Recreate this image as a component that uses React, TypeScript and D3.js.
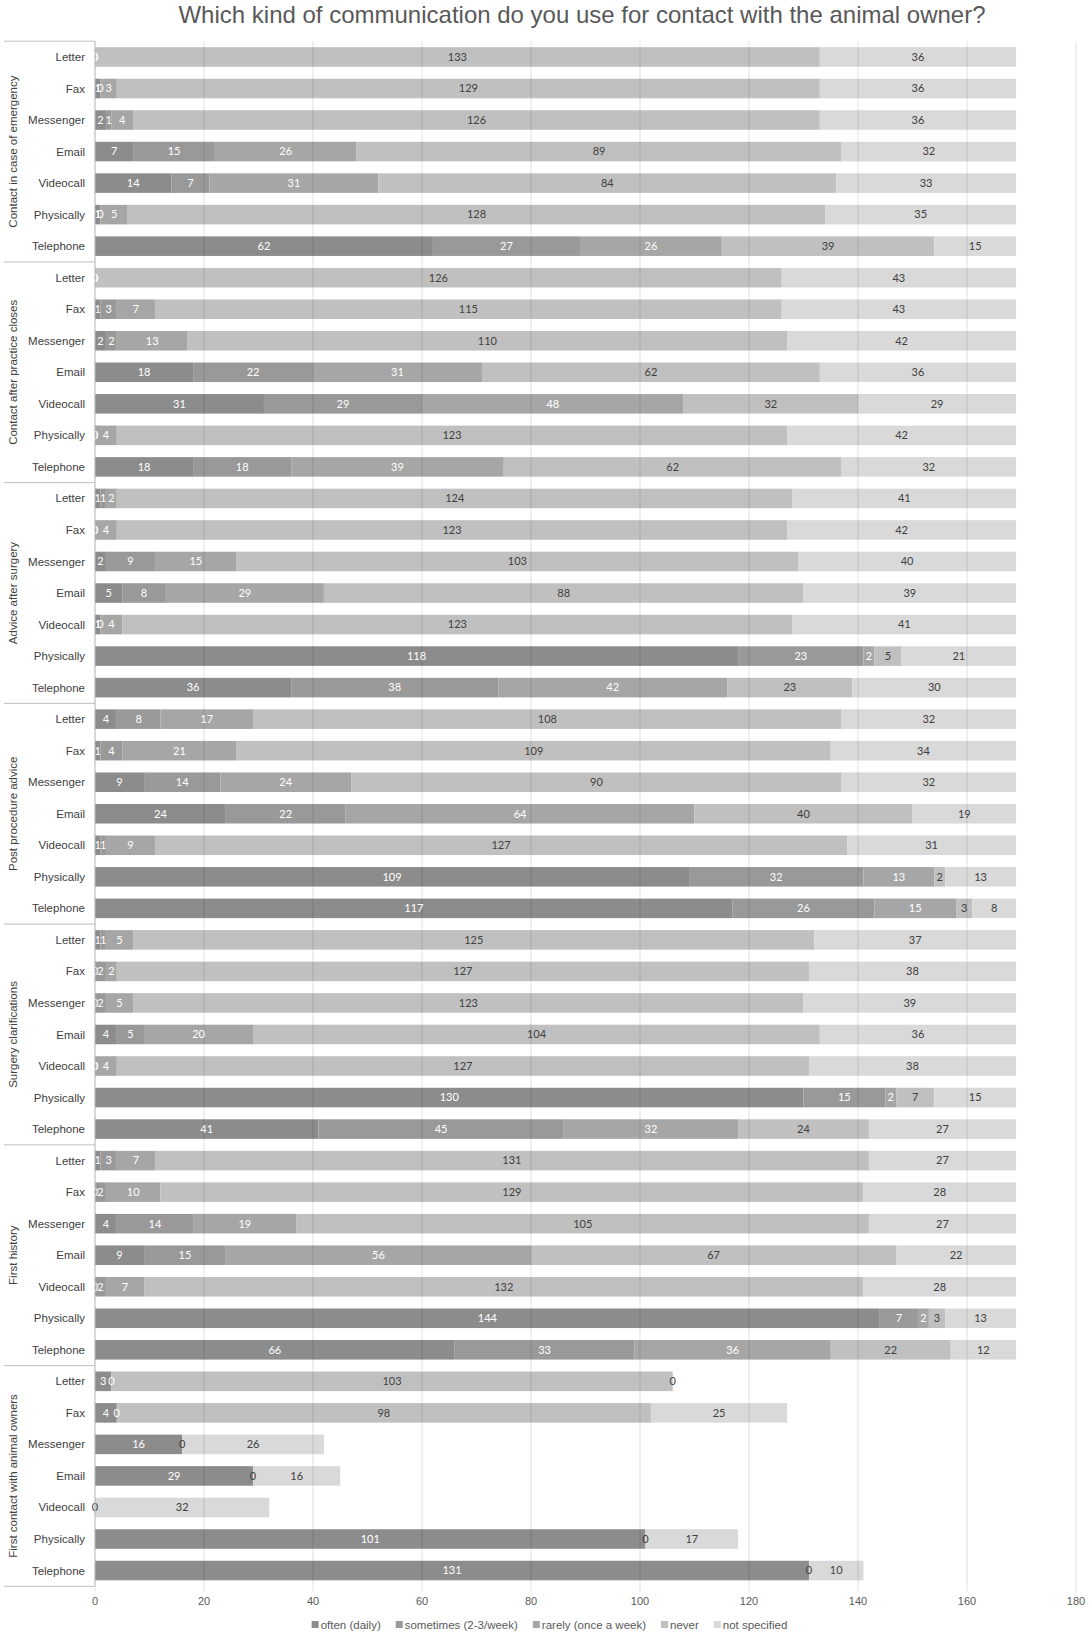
import React from "react";
import * as d3 from "d3";

const TITLE = "Which kind of communication do you use for contact with the animal owner?";
const SERIES = ["often (daily)", "sometimes (2-3/week)", "rarely (once a week)", "never", "not specified"];
const COLORS = ["#8c8c8c", "#999999", "#a6a6a6", "#c0c0c0", "#d9d9d9"];
const LABEL_COLORS = ["#ffffff", "#ffffff", "#ffffff", "#404040", "#404040"];
const CHANNELS = ["Letter", "Fax", "Messenger", "Email", "Videocall", "Physically", "Telephone"];
const GROUPS = [
  "Contact in case of emergency",
  "Contact after practice closes",
  "Advice after surgery",
  "Post procedure advice",
  "Surgery clarifications",
  "First history",
  "First contact with animal owners",
];
const TICKS = [0, 20, 40, 60, 80, 100, 120, 140, 160, 180];

type V = number | null;
// rows: Letter, Fax, Messenger, Email, Videocall, Physically, Telephone
// cols: often, sometimes, rarely, never, not specified
const emergency: V[][] = [
  [0, 0, 0, 133, 36],
  [1, 0, 3, 129, 36],
  [2, 1, 4, 126, 36],
  [7, 15, 26, 89, 32],
  [14, 7, 31, 84, 33],
  [1, 0, 5, 128, 35],
  [62, 27, 26, 39, 15],
];
const afterClose: V[][] = [
  [0, 0, 0, 126, 43],
  [1, 3, 7, 115, 43],
  [2, 2, 13, 110, 42],
  [18, 22, 31, 62, 36],
  [31, 29, 48, 32, 29],
  [0, 0, 4, 123, 42],
  [18, 18, 39, 62, 32],
];
const afterSurgery: V[][] = [
  [1, 1, 2, 124, 41],
  [0, 0, 4, 123, 42],
  [2, 9, 15, 103, 40],
  [5, 8, 29, 88, 39],
  [1, 0, 4, 123, 41],
  [118, 23, 2, 5, 21],
  [36, 38, 42, 23, 30],
];
const postProcedure: V[][] = [
  [4, 8, 17, 108, 32],
  [1, 4, 21, 109, 34],
  [9, 14, 24, 90, 32],
  [24, 22, 64, 40, 19],
  [1, 1, 9, 127, 31],
  [109, 32, 13, 2, 13],
  [117, 26, 15, 3, 8],
];
const clarifications: V[][] = [
  [1, 1, 5, 125, 37],
  [0, 2, 2, 127, 38],
  [0, 2, 5, 123, 39],
  [4, 5, 20, 104, 36],
  [0, 0, 4, 127, 38],
  [130, 15, 2, 7, 15],
  [41, 45, 32, 24, 27],
];
const firstHistory: V[][] = [
  [1, 3, 7, 131, 27],
  [0, 2, 10, 129, 28],
  [4, 14, 19, 105, 27],
  [9, 15, 56, 67, 22],
  [0, 2, 7, 132, 28],
  [144, 7, 2, 3, 13],
  [66, 33, 36, 22, 12],
];
const firstContact: V[][] = [
  [3, 0, null, 103, 0],
  [4, 0, null, 98, 25],
  [16, null, null, 0, 26],
  [29, null, null, 0, 16],
  [null, null, null, 0, 32],
  [101, null, null, 0, 17],
  [131, null, null, 0, 10],
];
const GROUP_DATA = [emergency, afterClose, afterSurgery, postProcedure, clarifications, firstHistory, firstContact];

const W = 1090;
const H = 1637;
const AX = "'Liberation Sans', Arial, sans-serif";
const LBL = "Lato, 'Open Sans', sans-serif";

function measure(text: string, font: string) {
  const c = document.createElement("canvas").getContext("2d");
  if (!c) return text.length * 6;
  c.font = font;
  return c.measureText(text).width;
}

export default function App() {
  const rows = GROUPS.flatMap((g, gi) => CHANNELS.map((c, ci) => ({ key: `${gi}|${ci}`, group: gi, channel: c, values: GROUP_DATA[gi][ci] })));
  const x = d3.scaleLinear().domain([0, 180]).range([95, 1076]);
  const y = d3.scaleBand<string>().domain(rows.map((r) => r.key)).range([41.2, 1586.3]).paddingInner(0.38).paddingOuter(0.19);
  const step = y.step();
  const top = 41.2;
  const bottom = 1586.3;

  const segs: any[] = [];
  rows.forEach((r) => {
    let acc = 0;
    r.values.forEach((v, si) => {
      if (v === null) return;
      segs.push({ key: r.key, si, x0: acc, x1: acc + v, v });
      acc += v;
    });
  });

  // legend layout
  const legFont = `11.5px ${AX}`;
  const itemW = SERIES.map((s) => 10 + measure(s, legFont));
  const gap = 14;
  const totalW = d3.sum(itemW) + gap * (SERIES.length - 1);
  let lx = 550 - totalW / 2;
  const legX = itemW.map((w) => {
    const p = lx;
    lx += w + gap;
    return p;
  });

  const groupBounds = GROUPS.map((_, gi) => {
    const k0 = `${gi}|0`;
    const k1 = `${gi}|${CHANNELS.length - 1}`;
    return [(y(k0) as number) - (step - y.bandwidth()) / 2, (y(k1) as number) + y.bandwidth() + (step - y.bandwidth()) / 2];
  });

  return (
    <svg width={W} height={H} style={{ position: "absolute", left: 0, top: 0, background: "#fff" }}>
      <rect x={0} y={0} width={W} height={H} fill="#fff" />
      <text x={582} y={23} textAnchor="middle" fontFamily={AX} fontSize={24} fill="#595959">
        {TITLE}
      </text>

      {/* bars */}
      {segs.map((s, i) => (
        <rect key={i} x={x(s.x0)} y={y(s.key)} width={Math.max(0, x(s.x1) - x(s.x0))} height={y.bandwidth()} fill={COLORS[s.si]} />
      ))}

      {/* gridlines over bars */}
      {TICKS.map((t) => (
        <line key={t} x1={x(t)} x2={x(t)} y1={top} y2={bottom + 5} stroke="#000" strokeOpacity={0.12} strokeWidth={1} />
      ))}

      {/* data labels */}
      {segs.map((s, i) => (
        <text
          key={i}
          x={(x(s.x0) + x(s.x1)) / 2}
          y={(y(s.key) as number) + y.bandwidth() / 2}
          dy="0.35em"
          textAnchor="middle"
          fontFamily={LBL}
          fontSize={11}
          fill={LABEL_COLORS[s.si]}
        >
          {s.v}
        </text>
      ))}

      {/* category axis */}
      <line x1={95} x2={95} y1={top} y2={bottom} stroke="#bfbfbf" />
      {[top, ...groupBounds.map((b) => b[1])].map((yy, i) => (
        <line key={i} x1={4} x2={95} y1={yy} y2={yy} stroke="#bfbfbf" />
      ))}
      {rows.map((r) => (
        <text key={r.key} x={85} y={(y(r.key) as number) + y.bandwidth() / 2} dy="0.35em" textAnchor="end" fontFamily={AX} fontSize={11.5} fill="#404040">
          {r.channel}
        </text>
      ))}
      {GROUPS.map((g, gi) => {
        const cy = (groupBounds[gi][0] + groupBounds[gi][1]) / 2;
        return (
          <text key={g} transform={`translate(12.5,${cy}) rotate(-90)`} textAnchor="middle" dy="0.35em" fontFamily={AX} fontSize={11.5} fill="#404040">
            {g}
          </text>
        );
      })}

      {/* value axis labels */}
      {TICKS.map((t) => (
        <text key={t} x={x(t)} y={1605} textAnchor="middle" fontFamily={AX} fontSize={11} fill="#595959">
          {t}
        </text>
      ))}

      {/* legend */}
      {SERIES.map((s, i) => (
        <g key={s} transform={`translate(${legX[i]},1625)`}>
          <rect x={0} y={-4} width={7} height={7} fill={COLORS[i]} />
          <text x={9} y={0} dy="0.35em" fontFamily={AX} fontSize={11.5} fill="#595959">
            {s}
          </text>
        </g>
      ))}
    </svg>
  );
}
